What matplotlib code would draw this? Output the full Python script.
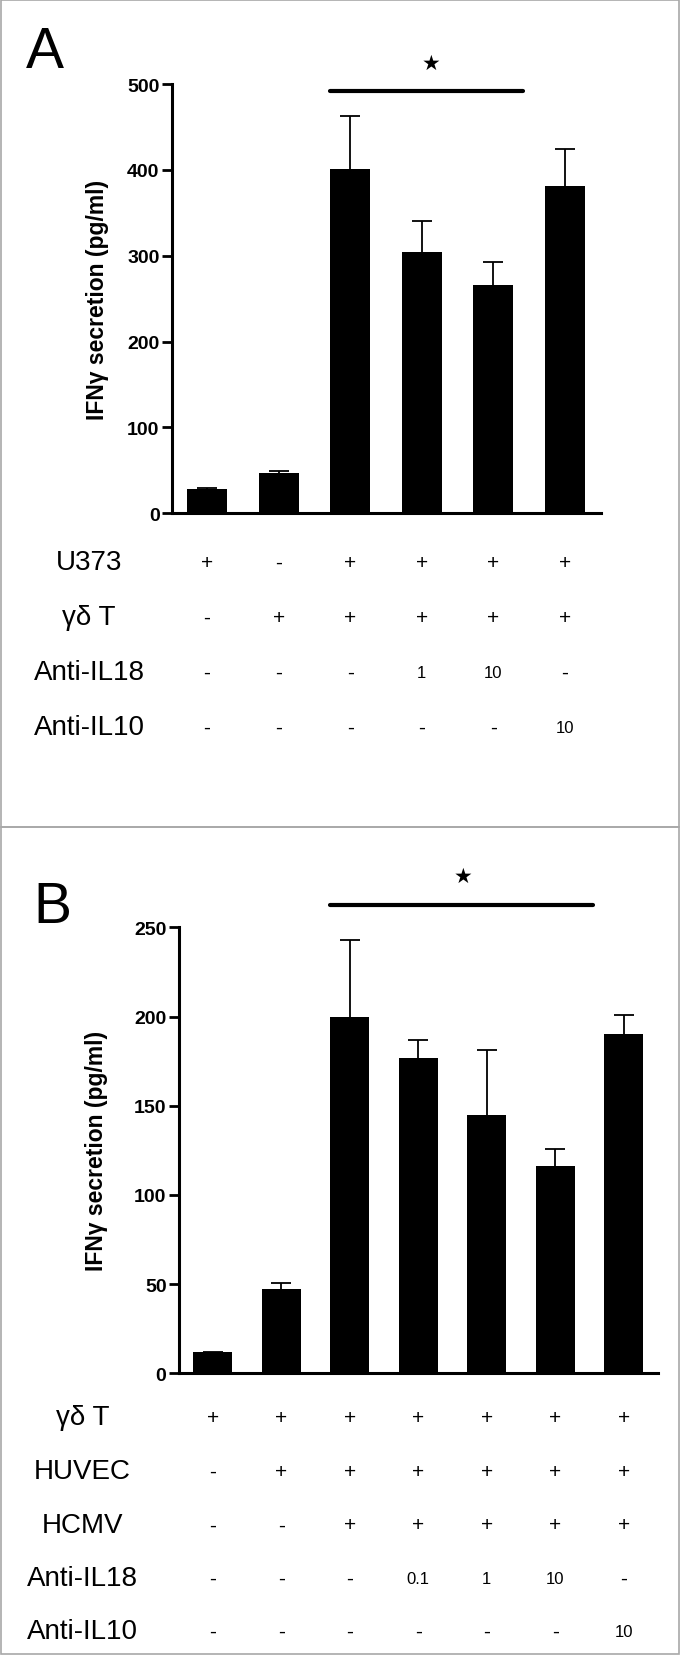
import matplotlib
matplotlib.use('Agg')
import matplotlib.pyplot as plt
from matplotlib.transforms import blended_transform_factory
from matplotlib.patches import Rectangle

plt.rcParams['font.family'] = ['Liberation Sans', 'DejaVu Sans']

W, H = 680, 1656

# ---------------- Panel A data ----------------
a_values = [28, 47, 401, 304, 266, 381]
a_err = [2, 2, 62, 36, 27, 43]
a_rows = ['U373', 'γδ T', 'Anti-IL18', 'Anti-IL10']
a_table = [
    ['+', '-', '+', '+', '+', '+'],
    ['-', '+', '+', '+', '+', '+'],
    ['-', '-', '-', '1', '10', '-'],
    ['-', '-', '-', '-', '-', '10'],
]
a_yticks = [0, 100, 200, 300, 400, 500]

# ---------------- Panel B data ----------------
b_values = [12, 47, 200, 177, 145, 116, 190]
b_err = [0, 3.5, 43, 10, 36, 10, 11]
b_rows = ['γδ T', 'HUVEC', 'HCMV', 'Anti-IL18', 'Anti-IL10']
b_table = [
    ['+', '+', '+', '+', '+', '+', '+'],
    ['-', '+', '+', '+', '+', '+', '+'],
    ['-', '-', '+', '+', '+', '+', '+'],
    ['-', '-', '-', '0.1', '1', '10', '-'],
    ['-', '-', '-', '-', '-', '-', '10'],
]
b_yticks = [0, 50, 100, 150, 200, 250]

ylabel = 'IFNγ secretion (pg/ml)'

fig = plt.figure(figsize=(W / 100, H / 100), dpi=100)


def px_axes(l, r, top, bottom):
    return fig.add_axes([l / W, 1 - bottom / H, (r - l) / W, (bottom - top) / H])


def draw_panel(ax, values, err, yticks, xlim, width, label_x, sig, star,
               rows, table, row_y, row_label_x, letter, letter_pos):
    x = list(range(len(values)))
    ax.bar(x, values, width=width, color='black', zorder=2)
    # upper-only error bars (stem + cap), hidden inside the bar below the top
    ax.errorbar(x, values, yerr=[[0] * len(values), err], fmt='none',
                ecolor='black', elinewidth=1.3, capsize=0, zorder=1)
    tops = [v + e for v, e in zip(values, err)]
    ax.errorbar(x, tops, xerr=None, yerr=None, fmt='none')
    ax.plot(x, tops, linestyle='none', marker='_', markersize=14,
            markeredgewidth=1.3, color='black', zorder=1)
    ax.set_xlim(*xlim)
    ax.set_ylim(yticks[0], yticks[-1])
    ax.set_yticks(yticks)
    ax.set_xticks([])
    for s in ['top', 'right']:
        ax.spines[s].set_visible(False)
    for s in ['left', 'bottom']:
        ax.spines[s].set_linewidth(2.2)
    ax.tick_params(axis='y', length=7, width=2, labelsize=14, pad=2)
    for lbl in ax.get_yticklabels():
        lbl.set_fontweight('bold')
    ax.set_ylabel(ylabel, fontsize=16.5, fontweight='bold', va='center')
    ax.yaxis.set_label_coords(label_x, 0.5)

    # significance bar and star
    (x0, x1, yl) = sig
    ax.plot([x0, x1], [yl, yl], color='black', lw=3, solid_capstyle='round',
            clip_on=False)
    ax.text(star[0], star[1], '★', ha='center', va='center', fontsize=15,
            family=['DejaVu Sans'], clip_on=False)

    # table below
    trans = blended_transform_factory(ax.transData, fig.transFigure)
    for i, (rlab, rvals) in enumerate(zip(rows, table)):
        yy = 1 - row_y[i] / H
        fig.text(row_label_x / W, yy, rlab, ha='center', va='center', fontsize=20)
        for j, s in enumerate(rvals):
            fs = 15 if s in ('+', '-') else 12
            ax.text(j, yy, s, transform=trans, ha='center', va='center', fontsize=fs)

    fig.text(letter_pos[0] / W, 1 - letter_pos[1] / H, letter, ha='left',
             va='baseline', fontsize=41)


# Panel A
axA = px_axes(172, 600.6, 85, 514.3)
draw_panel(axA, a_values, a_err, a_yticks, (-0.49, 5.5), 0.56, -0.174,
           (1.72, 4.41, 491.7), (3.135, 525),
           a_rows, a_table, [563.3, 618.3, 673.3, 728.3], 89, 'A', (26, 68))

# Panel B
axB = px_axes(179, 658, 928.3, 1374.3)
draw_panel(axB, b_values, b_err, b_yticks, (-0.496, 6.5), 0.57, -0.172,
           (1.715, 5.55, 262.7), (3.65, 278.6),
           b_rows, b_table, [1418.3, 1472.3, 1526, 1579.3, 1632.3], 82.4, 'B', (33, 923))

# panel borders
for top, bot in [(1, 828), (828, 1655)]:
    fig.add_artist(Rectangle((1 / W, 1 - bot / H), (W - 2) / W, (bot - top) / H,
                             transform=fig.transFigure, fill=False,
                             edgecolor='#a8a8a8', lw=1.2))

fig.savefig('out.png', dpi=100)
